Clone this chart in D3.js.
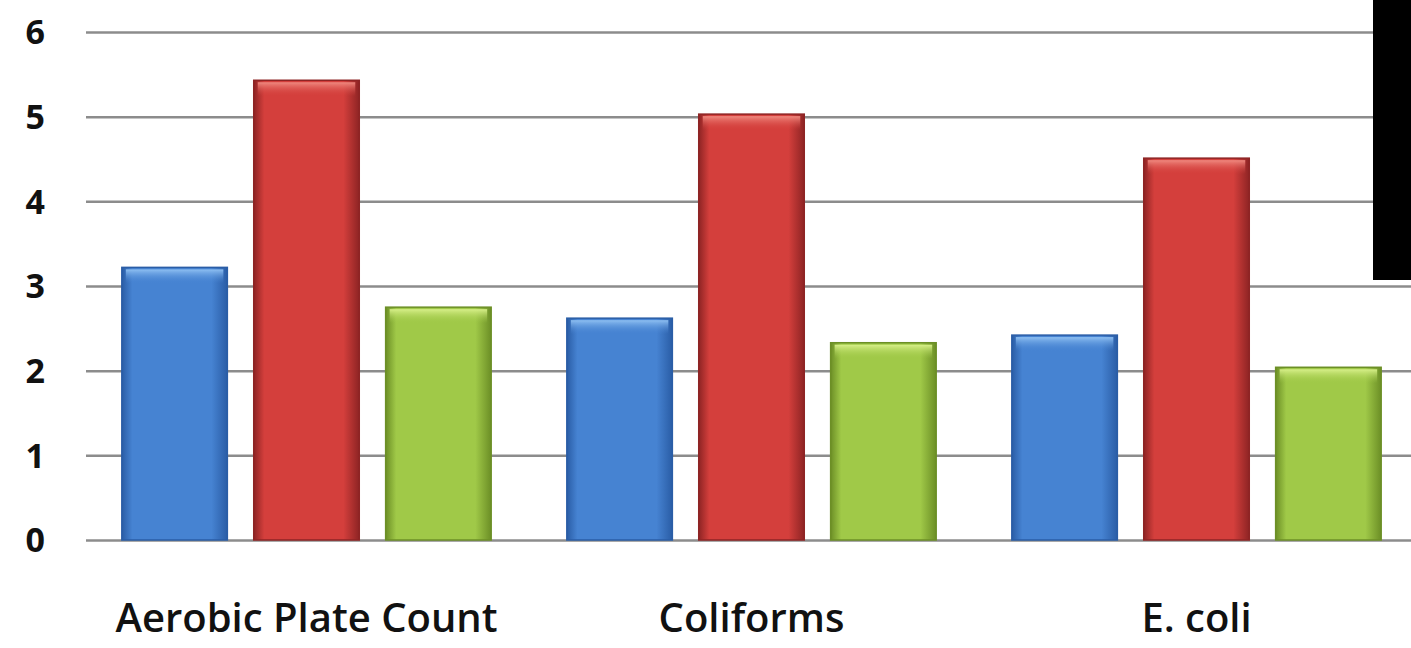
<!DOCTYPE html>
<html>
<head>
<meta charset="utf-8">
<script src="https://cdn.jsdelivr.net/npm/d3@7"></script>
<style>
  body { margin: 0; background: #fff; }
  svg { display: block; }
  text { font-family: "Open Sans", "Noto Sans", sans-serif; font-weight: 600; fill: #111; }
</style>
</head>
<body>
<svg id="chart" width="1411" height="648"></svg>
<script>
let categories = ["Aerobic Plate Count", "Coliforms", "E. coli"];
let seriesNames = ["s1", "s2", "s3"];
let blueValues = [3.22, 2.62, 2.42];
let redValues = [5.43, 5.03, 4.51];
let greenValues = [2.75, 2.33, 2.04];
let yTicks = [0, 1, 2, 3, 4, 5, 6];

let colors = {
  s1: { dark: "#2a5da6", mid: "#4683d2", top: "#8fc0f2" },
  s2: { dark: "#8e2424", mid: "#d43f3c", top: "#f08a80" },
  s3: { dark: "#6c8f26", mid: "#a0c948", top: "#d8f08a" }
};

let svg = d3.select("#chart");
let width = +svg.attr("width");

let rows = categories.map(function(c, i) {
  return { cat: c, s1: blueValues[i], s2: redValues[i], s3: greenValues[i] };
});

let y = d3.scaleLinear().domain([0, 6]).range([540, 32]);

let x0 = d3.scaleBand().domain(categories).range([84, 1419]).paddingInner(0.17).paddingOuter(0.085);
let x1 = d3.scaleBand().domain(seriesNames).range([0, x0.bandwidth()]).padding(0.2).paddingOuter(0);

// gradients
let defs = svg.append("defs");
seriesNames.forEach(function(s) {
  let g = defs.append("linearGradient").attr("id", "grad-" + s).attr("x1", "0").attr("x2", "1").attr("y1", "0").attr("y2", "0");
  g.append("stop").attr("offset", "0%").attr("stop-color", colors[s].dark);
  g.append("stop").attr("offset", "10%").attr("stop-color", colors[s].mid);
  g.append("stop").attr("offset", "85%").attr("stop-color", colors[s].mid);
  g.append("stop").attr("offset", "100%").attr("stop-color", colors[s].dark);
  let t = defs.append("linearGradient").attr("id", "top-" + s).attr("x1", "0").attr("x2", "0").attr("y1", "0").attr("y2", "1");
  t.append("stop").attr("offset", "0%").attr("stop-color", colors[s].top);
  t.append("stop").attr("offset", "100%").attr("stop-color", colors[s].mid).attr("stop-opacity", 0);
});

// gridlines
svg.append("g")
  .attr("class", "grid")
  .attr("transform", "translate(86,0)")
  .call(d3.axisLeft(y).tickValues(yTicks).tickSize(-(width - 86)).tickFormat(""))
  .call(function(g) { g.select(".domain").remove(); })
  .selectAll("line")
  .attr("stroke", "#8c8c8c")
  .attr("stroke-width", 2.5);

// y labels
svg.append("g")
  .attr("transform", "translate(45,0)")
  .call(d3.axisLeft(y).tickValues(yTicks).tickSize(0).tickFormat(d3.format("d")))
  .call(function(g) { g.select(".domain").remove(); })
  .selectAll("text")
  .attr("x", 0)
  .attr("dy", "0.35em")
  .style("font-size", "34px")
  .style("font-weight", "700");

// bars
let groups = svg.append("g").selectAll("g")
  .data(rows)
  .enter()
  .append("g")
  .attr("transform", function(d) { return "translate(" + x0(d.cat) + ",0)"; });

let bars = groups.selectAll("g")
  .data(function(d) { return seriesNames.map(function(s) { return { key: s, value: d[s] }; }); })
  .enter()
  .append("g");

bars.append("rect")
  .attr("x", function(d) { return x1(d.key); })
  .attr("y", function(d) { return y(d.value); })
  .attr("width", x1.bandwidth())
  .attr("height", function(d) { return y(0) - y(d.value); })
  .attr("fill", function(d) { return "url(#grad-" + d.key + ")"; })
  .attr("stroke", function(d) { return colors[d.key].dark; })
  .attr("stroke-width", 1.5);

bars.append("rect")
  .attr("x", function(d) { return x1(d.key) + 4; })
  .attr("y", function(d) { return y(d.value) + 2; })
  .attr("width", x1.bandwidth() - 8)
  .attr("height", 14)
  .attr("fill", function(d) { return "url(#top-" + d.key + ")"; });

// category labels
svg.append("g")
  .attr("transform", "translate(0,618)")
  .call(d3.axisBottom(x0).tickSize(0))
  .call(function(g) { g.select(".domain").remove(); })
  .selectAll("text")
  .attr("dy", "0.35em")
  .attr("y", 0)
  .style("font-size", "40px");

// black block at top right
svg.append("rect")
  .attr("x", 1373)
  .attr("y", 0)
  .attr("width", 40)
  .attr("height", 280)
  .attr("fill", "#000");
</script>
</body>
</html>
